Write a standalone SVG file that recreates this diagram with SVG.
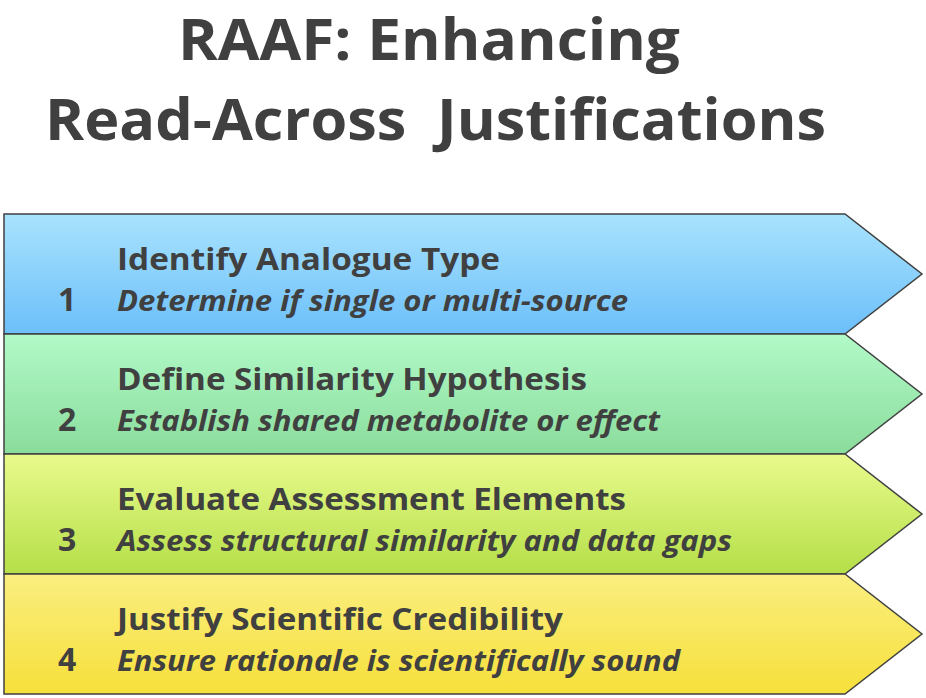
<svg xmlns="http://www.w3.org/2000/svg" width="926" height="698" viewBox="0 0 926 698">
<defs>
<linearGradient id="g1" x1="0" y1="0" x2="0" y2="1"><stop offset="0" stop-color="#a9e3fd"/><stop offset="1" stop-color="#6cbffa"/></linearGradient>
<linearGradient id="g2" x1="0" y1="0" x2="0" y2="1"><stop offset="0" stop-color="#b2fac8"/><stop offset="1" stop-color="#8adc9c"/></linearGradient>
<linearGradient id="g3" x1="0" y1="0" x2="0" y2="1"><stop offset="0" stop-color="#e8fa8c"/><stop offset="1" stop-color="#b5df48"/></linearGradient>
<linearGradient id="g4" x1="0" y1="0" x2="0" y2="1"><stop offset="0" stop-color="#faee80"/><stop offset="1" stop-color="#f6e03a"/></linearGradient>
</defs>
<style>
.s{stroke:#404040;stroke-width:1.5}
text{font-family:"Open Sans","Liberation Sans",sans-serif;fill:#404040;font-weight:bold}
.t{font-size:58px}
.h{font-size:30px}
.d{font-size:28px;font-style:italic}
.n{font-size:32px}
</style>
<rect width="926" height="698" fill="#fff"/>
<g id="title">
<text class="t" x="429" y="60" text-anchor="middle" textLength="502" lengthAdjust="spacingAndGlyphs">RAAF: Enhancing</text>
<text class="t" x="45" y="140" textLength="781" lengthAdjust="spacingAndGlyphs" xml:space="preserve">Read-Across  Justifications</text>
</g>
<g id="step1">
<path class="s" fill="url(#g1)" d="M4 214H845L922 274L845 334H4Z"/>
<text class="h" x="117" y="270" textLength="383" lengthAdjust="spacingAndGlyphs">Identify Analogue Type</text>
<text class="n" x="58" y="311">1</text>
<text class="d" x="117" y="311" textLength="511" lengthAdjust="spacingAndGlyphs">Determine if single or multi-source</text>
</g>
<g id="step2">
<path class="s" fill="url(#g2)" d="M4 334H845L922 394L845 454H4Z"/>
<text class="h" x="117" y="390" textLength="470" lengthAdjust="spacingAndGlyphs">Define Similarity Hypothesis</text>
<text class="n" x="58" y="431">2</text>
<text class="d" x="117" y="431" textLength="543" lengthAdjust="spacingAndGlyphs">Establish shared metabolite or effect</text>
</g>
<g id="step3">
<path class="s" fill="url(#g3)" d="M4 454H845L922 514L845 574H4Z"/>
<text class="h" x="117" y="510" textLength="509" lengthAdjust="spacingAndGlyphs">Evaluate Assessment Elements</text>
<text class="n" x="58" y="551">3</text>
<text class="d" x="117" y="551" textLength="615" lengthAdjust="spacingAndGlyphs">Assess structural similarity and data gaps</text>
</g>
<g id="step4">
<path class="s" fill="url(#g4)" d="M4 574H845L922 634L845 694H4Z"/>
<text class="h" x="117" y="630" textLength="446" lengthAdjust="spacingAndGlyphs">Justify Scientific Credibility</text>
<text class="n" x="58" y="671">4</text>
<text class="d" x="117" y="671" textLength="563" lengthAdjust="spacingAndGlyphs">Ensure rationale is scientifically sound</text>
</g>
<g id="connectors"/>
</svg>
